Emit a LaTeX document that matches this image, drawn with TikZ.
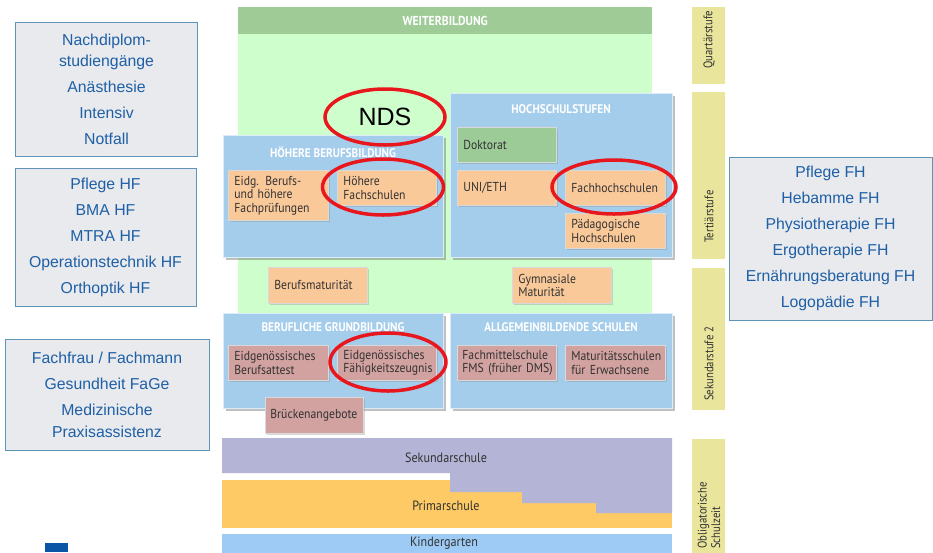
\documentclass[tikz,border=0pt]{standalone}
\usepackage{fontspec}
\setmainfont{Liberation Sans}
\newfontfamily\cond[FakeStretch=0.9]{PT Sans}
\newfontfamily\stagef[FakeStretch=0.86]{PT Sans}
\usetikzlibrary{shadows,shapes.geometric}
\definecolor{whead}{RGB}{158,203,150}
\definecolor{wbody}{RGB}{206,254,204}
\definecolor{panelc}{RGB}{164,204,235}
\definecolor{orangec}{RGB}{250,201,154}
\definecolor{pinkc}{RGB}{210,162,160}
\definecolor{dokc}{RGB}{157,203,152}
\definecolor{purplec}{RGB}{180,180,214}
\definecolor{yellowc}{RGB}{253,202,102}
\definecolor{kinderc}{RGB}{158,203,245}
\definecolor{stagec}{RGB}{233,229,156}
\definecolor{lgray}{RGB}{232,234,237}
\definecolor{lborder}{RGB}{94,148,181}
\definecolor{tblue}{RGB}{30,95,166}
\definecolor{ringred}{RGB}{232,23,30}
\definecolor{textdark}{RGB}{50,50,50}
\definecolor{logoblue}{RGB}{10,85,165}
\begin{document}
\begin{tikzpicture}[x=1pt,y=-1pt,
  panel/.style={fill=panelc, draw=white!60!panelc, line width=0.8pt, anchor=north west,
    drop shadow={shadow xshift=3pt, shadow yshift=-3pt, opacity=0.35, fill=black!70}},
  ptitle/.style={text=white, font=\cond\bfseries\fontsize{12.5}{14}\selectfont, inner sep=0pt},
  cbox/.style={draw=white!70!gray, line width=0.8pt, anchor=north west, align=left,
    inner xsep=6pt, inner ysep=2pt, text=textdark,
    font=\cond\fontsize{13}{13.5}\selectfont,
    drop shadow={shadow xshift=1.5pt, shadow yshift=-1.5pt, opacity=0.3}},
  obox/.style={cbox, fill=orangec},
  pbox/.style={cbox, fill=pinkc},
  gbox/.style={cbox, fill=dokc},
  leftbox/.style={fill=lgray, draw=lborder, line width=1pt, text=tblue, align=center,
    inner sep=0pt, font=\fontsize{15.8}{26}\selectfont},
  stagebox/.style={fill=stagec, anchor=north west, inner sep=0pt, minimum width=33pt},
  stagetext/.style={rotate=90, anchor=west, align=left, inner sep=0pt, text=textdark,
    font=\stagef\fontsize{12.5}{13.5}\selectfont},
  ring/.style={draw=ringred, line width=3.5pt, ellipse, inner sep=0pt},
  bandtext/.style={text=textdark, font=\cond\fontsize{13.5}{14}\selectfont, inner sep=0pt}
]
\clip (0,0) rectangle (933,552);
\fill[white] (0,0) rectangle (933,552);

% Weiterbildung
\fill[wbody] (238,34) rectangle (652,313);
\node[fill=whead, anchor=north west, minimum width=414pt, minimum height=27pt, inner sep=0pt,
  text=white, font=\cond\bfseries\fontsize{13}{14}\selectfont] (weiter) at (238,7) {WEITERBILDUNG};

% Panels
\node[panel, minimum width=220pt, minimum height=122pt] (hbb) at (223,135) {};
\node[ptitle] (hbbT) at (333,152) {HÖHERE BERUFSBILDUNG};
\node[panel, minimum width=222pt, minimum height=164pt] (hs) at (450,93) {};
\node[ptitle] (hsT) at (561,109) {HOCHSCHULSTUFEN};
\node[panel, minimum width=220pt, minimum height=95pt] (bg) at (223,313) {};
\node[ptitle] (bgT) at (333,327) {BERUFLICHE GRUNDBILDUNG};
\node[panel, minimum width=222pt, minimum height=95pt] (as) at (450,313) {};
\node[ptitle] (asT) at (561,327) {ALLGEMEINBILDENDE SCHULEN};

% Boxes
\node[gbox, text width=87pt, minimum width=99pt, minimum height=35pt] (dok) at (457,127) {Doktorat};
\node[obox, text width=87pt, minimum width=99pt, minimum height=35pt] (uni) at (457,170) {UNI/ETH};
\node[obox, text width=88pt, minimum width=100pt, minimum height=35pt] (fh) at (565,170) {Fachhochschulen};
\node[obox, text width=88pt, minimum width=100pt, minimum height=35pt] (ph) at (565,213) {Pädagogische\\Hochschulen};
\node[obox, text width=88pt, minimum width=100pt, minimum height=50pt] (eidg) at (228,170) {Eidg. Berufs-\\und höhere\\Fachprüfungen};
\node[obox, text width=87pt, minimum width=99pt, minimum height=35pt] (hf) at (337,170) {Höhere\\Fachschulen};
\node[obox, text width=87pt, minimum width=99pt, minimum height=36pt] (bm) at (268,267) {Berufsmaturität};
\node[obox, text width=87pt, minimum width=99pt, minimum height=36pt] (gm) at (512,267) {Gymnasiale\\Maturität};
\node[pbox, text width=88pt, minimum width=100pt, minimum height=35pt] (eba) at (228,345) {Eidgenössisches\\Berufsattest};
\node[pbox, text width=87pt, minimum width=99pt, minimum height=35pt] (efz) at (337,345) {Eidgenössisches\\Fähigkeitszeugnis};
\node[pbox, text width=89pt, minimum width=99pt, minimum height=35pt, inner xsep=5pt] (fms) at (457,345) {Fachmittelschule\\\mbox{FMS (früher DMS)}};
\node[pbox, text width=88pt, minimum width=100pt, minimum height=35pt] (mse) at (565,345) {Maturitätsschulen\\für Erwachsene};
\node[pbox, text width=88pt, minimum width=98pt, minimum height=36pt, inner xsep=5pt] (bra) at (265,397) {Brückenangebote};

% Obligatory school bands
\fill[yellowc] (222,480) rectangle (672,528);
\fill[purplec] (222,438) -- (672,438) -- (672,513) -- (596,513) -- (596,503) -- (522,503)
  -- (522,492) -- (450,492) -- (450,473) -- (222,473) -- cycle;
\fill[kinderc] (222,534) rectangle (672,560);
\node[bandtext] (sek) at (446,458) {Sekundarschule};
\node[bandtext] (prim) at (446,506) {Primarschule};
\node[bandtext] (kind) at (444,543.5) {Kindergarten};

% Stage labels
\node[stagebox, minimum height=77pt] (qs) at (692,7) {};
\node[stagetext] (qsT) at (709,69) {Quartärstufe};
\node[stagebox, minimum height=167pt] (ts) at (692,92) {};
\node[stagetext] (tsT) at (709,243) {Tertiärstufe};
\node[stagebox, minimum height=142pt] (ss) at (692,268) {};
\node[stagetext] (ssT) at (709,401) {Sekundarstufe 2};
\node[stagebox, minimum height=121pt] (os) at (692,439) {};
\node[stagetext] (osT) at (709,549) {Obligatorische\\Schulzeit};

% Left and right info boxes
\node[leftbox, minimum width=182pt, minimum height=134pt] (lb1) at (106.5,89)
  {Nachdiplom-\\[-5pt]studiengänge\\Anästhesie\\Intensiv\\Notfall};
\node[leftbox, minimum width=181pt, minimum height=138pt] (lb2) at (105.5,237)
  {Pflege HF\\BMA HF\\MTRA HF\\Operationstechnik HF\\Orthoptik HF};
\node[leftbox, minimum width=204pt, minimum height=111pt] (lb3) at (107,394.5)
  {Fachfrau / Fachmann\\Gesundheit FaGe\\Medizinische\\[-4pt]Praxisassistenz};
\node[leftbox, minimum width=203pt, minimum height=163pt] (rb) at (830.5,238.5)
  {Pflege FH\\Hebamme FH\\Physiotherapie FH\\Ergotherapie FH\\Ernährungsberatung FH\\Logopädie FH};

% Red rings
\node[ring, minimum width=120pt, minimum height=56pt, font=\fontsize{25}{28}\selectfont] (nds) at (385,117) {NDS};
\node[ring, minimum width=121pt, minimum height=56pt] (hfring) at (383,187) {};
\node[ring, minimum width=124pt, minimum height=54pt] (fhring) at (614,187) {};
\node[ring, minimum width=116pt, minimum height=58pt] (efzring) at (388,362) {};

% Logo fragment
\fill[logoblue] (45,543) rectangle (68,552);
\end{tikzpicture}
\end{document}
